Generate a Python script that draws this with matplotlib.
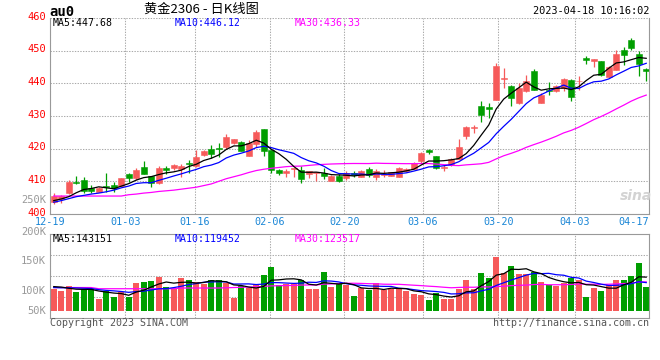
import numpy as np
import pandas as pd
import matplotlib
matplotlib.use('Agg')
import matplotlib.pyplot as plt
from matplotlib.transforms import offset_copy

W, H = 660, 360
MONO = 'DejaVu Sans Mono'
RED = '#f65a5a'
GREEN = '#009e00'
GRID = '#aaaaaa'
FRAME = '#999999'
XBLUE = '#1a86d6'

symbol = 'au0'
title = '黄金2306 - 日K线图'
stamp = '2023-04-18 10:16:02'
copyright_text = 'Copyright 2023 SINA.COM'
url_text = 'http://finance.sina.com.cn'

# date labels on the x axis and where sina puts their grid lines (candle units)
date_labels = ['12-19', '01-03', '01-16', '02-06', '02-20', '03-06', '03-20', '04-03', '04-17']
date_grid = [-0.5, 9.54, 18.79, 28.83, 38.74, 49.19, 59.27, 69.46]
price_ticks = [400, 410, 420, 430, 440, 450, 460]

# daily candles 12-19 .. 04-18
opens = [403.8, 404.7, 406.5, 409.9, 410.4, 407.9, 406.6, 408.7, 408.8, 408.6,
         412.2, 410.9, 414.5, 411.6, 409.4, 414.2, 414.0, 413.9, 415.5, 414.7,
         418.1, 419.9, 420.1, 420.4, 421.6, 422.0, 417.9, 421.4, 426.0, 419.6,
         413.5, 412.5, 413.7, 413.5, 412.2, 412.7, 412.7, 410.2, 411.7, 410.9,
         412.6, 411.2, 413.8, 411.4, 411.8, 411.7, 411.4, 413.1, 413.9, 416.3,
         419.6, 417.8, 414.0, 414.9, 416.8, 423.9, 426.3, 433.1, 432.8, 434.9,
         441.3, 439.1, 434.0, 437.8, 443.9, 434.0, 438.1, 437.8, 438.6, 441.1,
         440.6, 447.8, 446.7, 446.7, 441.8, 444.2, 450.1, 453.4, 449.0, 444.4]
highs = [406.3, 405.8, 410.4, 411.6, 411.4, 408.9, 408.4, 412.7, 409.9, 411.0,
         412.7, 414.0, 416.2, 411.6, 414.7, 414.7, 415.3, 415.3, 416.5, 419.6,
         419.6, 421.1, 421.8, 424.5, 423.0, 422.3, 422.7, 425.7, 426.0, 419.6,
         413.8, 413.9, 414.2, 414.7, 413.3, 413.0, 414.0, 411.9, 412.2, 413.2,
         413.2, 413.5, 414.5, 413.7, 413.5, 413.0, 414.5, 414.1, 416.0, 418.9,
         419.8, 417.8, 415.0, 417.2, 423.1, 426.9, 427.2, 434.6, 434.1, 446.3,
         444.7, 439.6, 440.1, 442.7, 444.5, 437.0, 440.4, 439.6, 441.6, 441.3,
         442.1, 448.3, 447.4, 446.9, 445.2, 450.3, 451.0, 453.9, 449.8, 444.7]
lows = [403.1, 403.5, 406.1, 409.2, 406.3, 406.5, 406.6, 406.8, 406.8, 408.5,
        409.9, 410.4, 412.2, 408.4, 409.2, 412.1, 413.5, 411.4, 412.4, 414.5,
        417.9, 417.0, 417.6, 419.9, 421.3, 419.4, 417.9, 420.4, 417.8, 412.5,
        411.9, 411.4, 411.2, 409.6, 411.1, 410.2, 410.8, 410.2, 409.9, 410.4,
        411.4, 411.2, 411.4, 410.4, 411.4, 411.6, 411.2, 412.8, 413.7, 415.5,
        418.3, 413.7, 413.3, 414.7, 416.8, 423.1, 424.7, 428.3, 429.5, 434.9,
        438.6, 433.2, 433.7, 437.3, 438.1, 434.0, 436.3, 437.3, 437.6, 434.5,
        438.1, 446.0, 444.9, 442.1, 441.6, 444.2, 445.7, 450.1, 442.1, 440.6]
closes = [405.5, 405.5, 409.9, 409.6, 407.0, 407.0, 408.1, 408.4, 408.1, 411.0,
          410.9, 413.5, 412.2, 409.6, 414.2, 413.5, 415.0, 414.8, 415.2, 417.6,
          419.3, 418.4, 419.8, 423.7, 423.0, 419.4, 421.8, 425.0, 419.4, 413.5,
          412.7, 413.1, 414.1, 410.7, 413.2, 413.0, 411.7, 411.7, 410.2, 412.7,
          411.9, 413.2, 411.9, 413.1, 412.1, 412.8, 414.1, 413.9, 415.6, 418.6,
          418.9, 414.0, 414.5, 416.9, 420.6, 426.5, 426.5, 430.3, 432.2, 445.3,
          441.6, 435.5, 438.6, 440.8, 438.1, 436.5, 437.6, 439.3, 441.3, 435.7,
          440.8, 447.2, 447.4, 442.7, 444.9, 449.0, 448.8, 450.8, 446.0, 443.7]
volumes = [94200, 84400, 105500, 80200, 91400, 94200, 50600, 83000, 59100, 80200,
           59100, 118200, 122400, 126600, 143500, 101300, 94200, 139300, 130800, 122400,
           115300, 130800, 130800, 118200, 54900, 104100, 97100, 111100, 151900, 185700,
           111100, 115300, 115300, 129400, 94200, 94200, 164600, 101300, 115300, 111100,
           63300, 97100, 87200, 118200, 87200, 91400, 91400, 83000, 71700, 68900,
           46400, 76000, 52000, 52000, 94200, 130800, 94200, 161800, 140700, 229300,
           160400, 189900, 156100, 156100, 164600, 122400, 108300, 104100, 118200, 140700,
           132200, 59100, 97100, 85800, 108300, 130800, 130800, 149100, 202600, 101300]

# moving averages before enough days are on screen
ma5_head = [404.1, 404.6, 405.3, 406.5]
ma10_head = [403.6, 404.1, 404.7, 405.3, 405.7, 406.1, 406.4, 406.8, 407.3]
ma30_head = [405.5, 405.5, 405.5, 405.5, 405.5, 405.5, 405.5, 405.5, 405.5, 405.5,
             405.9, 406.1, 406.4, 406.6, 406.9, 407.1, 407.3, 407.6, 407.9, 408.2,
             408.7, 409.2, 410.0, 410.8, 411.4, 412.0, 412.7, 413.3, 413.7]
vma5_head = [103000, 101000, 96000, 92000]
vma10_head = [99000, 98000, 98000, 97000, 96000, 95000, 90000, 87000, 85000]
vma30_head = [99000, 99000, 99000, 99000, 99000, 99000, 94000, 94000, 94000, 94000,
              94000, 94000, 94000, 94000, 94000, 94000, 94000, 97000, 97000, 97000,
              97000, 97000, 97000, 98000, 99000, 100000, 101000, 102000, 104000]

price_legend = ['MA5:447.68', 'MA10:446.12', 'MA30:436.33']
vol_legend = ['MA5:143151', 'MA10:119452', 'MA30:123517']
vol_labels = ['250K', '200K', '150K', '100K', '50K']


def moving(values, n, head):
    s = pd.Series(values, dtype=float).rolling(n).mean()
    s.iloc[:len(head)] = head
    return s.values


def fx(x):
    return x / W


def fy(y):
    return 1 - y / H


o = np.array(opens)
c = np.array(closes)
x = np.arange(len(closes))
cols = np.where(c >= o, RED, GREEN)
xmax = 79.37

fig = plt.figure(figsize=(W / 100, H / 100), dpi=100)
fig.patch.set_facecolor('white')

# ---- price panel ----
ax = fig.add_axes([fx(50), fy(214), 599 / W, 196 / H])
ax.set_xlim(-0.5, xmax)
ax.set_ylim(400, 460)
ax.vlines(x, lows, highs, colors=cols, lw=0.9, zorder=2)
ax.bar(x, np.maximum(np.abs(c - o), 0.15), bottom=np.minimum(o, c), width=0.74,
       color=cols, edgecolor=cols, lw=0.4, zorder=3)
ax.plot(x, moving(closes, 30, ma30_head), color='#ff00ff', lw=0.9, zorder=4)
ax.plot(x, moving(closes, 10, ma10_head), color='#0000ff', lw=0.9, zorder=4)
ax.plot(x, moving(closes, 5, ma5_head), color='black', lw=0.9, zorder=4)

ax.set_yticks(price_ticks)
ax.set_yticklabels([])
# sina draws the price labels a little above their grid lines
ylab_tr = offset_copy(ax.get_yaxis_transform(), fig=fig, x=-4, y=1.5, units='dots')
for v in price_ticks:
    ax.text(0, v, str(v), transform=ylab_tr, ha='right', va='center',
            color='red', family=MONO, size=7.5, clip_on=False)

ax.set_xticks(date_grid + [xmax])
ax.set_xticklabels(date_labels)
ax.get_xticklabels()[-1].set_ha('right')
ax.grid(True, color=GRID, ls=(0, (1.3, 1.3)), lw=0.75, zorder=0)
ax.tick_params(length=0, labelsize=7.3)
ax.tick_params(axis='x', colors=XBLUE, pad=2.2)
for t in ax.get_xticklabels():
    t.set_family(MONO)
ax.spines['top'].set_visible(False)
for s in ['left', 'right', 'bottom']:
    ax.spines[s].set_color(FRAME)
    ax.spines[s].set_linewidth(0.8)

# ---- volume panel ----
av = fig.add_axes([fx(50), fy(318), 599 / W, 84 / H])
av.set_xlim(-0.5, xmax)
vlo, vhi = -29540, 324940
av.set_ylim(vlo, vhi)
av.bar(x, volumes, width=0.76, color=cols, lw=0, zorder=2)
av.plot(x, moving(volumes, 30, vma30_head), color='#ff00ff', lw=0.9, zorder=4)
av.plot(x, moving(volumes, 10, vma10_head), color='#0000ff', lw=0.9, zorder=4)
av.plot(x, moving(volumes, 5, vma5_head), color='black', lw=0.9, zorder=4)
av.set_yticks([vlo + f * (vhi - vlo) for f in (0.25, 0.5, 0.75)])
av.set_xticks(date_grid)
av.set_xticklabels([])
av.set_yticklabels([])
av.tick_params(length=0)
av.grid(True, color=GRID, ls=(0, (1.3, 1.3)), lw=0.75, zorder=0)
for s in av.spines.values():
    s.set_color(FRAME)
    s.set_linewidth(0.8)

# ---- texts ----
legend_x = [53, 175, 295]
legend_c = ['black', '#0000ff', '#ff00ff']
for lx, col, t1, t2 in zip(legend_x, legend_c, price_legend, vol_legend):
    fig.text(fx(lx), fy(23.5), t1, color=col, family=MONO, size=7.1, va='center')
    fig.text(fx(lx), fy(238.5), t2, color=col, family=MONO, size=7.1, va='center')

for lab, ly in zip(vol_labels, [200, 231.5, 261, 290.5, 310.5]):
    fig.text(fx(46), fy(ly), lab, color='#999999', family=MONO, size=7.5,
             ha='right', va='center')

fig.text(fx(49), fy(11.5), symbol, family=MONO, weight='bold', size=10, va='center')
fig.text(fx(201), fy(9.5), title, family=['Noto Sans CJK SC', 'DejaVu Sans'],
         size=9.5, ha='center', va='center')
fig.text(fx(649), fy(11.5), stamp, family=MONO, size=7.4, ha='right', va='center')
fig.text(fx(50), fy(323.5), copyright_text, family=MONO, size=7.2,
         color='#555555', va='center')
fig.text(fx(649), fy(323.5), url_text, family=MONO, size=7.2,
         color='#555555', ha='right', va='center')
fig.text(fx(636), fy(196), 'sina', family='DejaVu Sans', style='italic',
         weight='bold', size=10, color='#d3d3d3', ha='center', va='center')

fig.savefig('out.png', dpi=100, facecolor='white')
